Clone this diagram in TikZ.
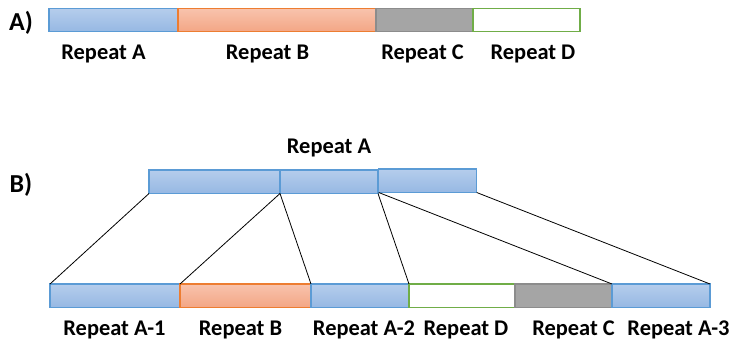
\documentclass[tikz,border=0pt]{standalone}
\usepackage{fontspec}
\setmainfont{Carlito}
\usepackage{xcolor}
\usepackage{tikz}
\usetikzlibrary{positioning}
\definecolor{blueline}{HTML}{5B9BD5}
\definecolor{bluetop}{HTML}{B5CDEC}
\definecolor{bluebot}{HTML}{96B8E3}
\definecolor{orangeline}{HTML}{ED7D31}
\definecolor{orangetop}{HTML}{F8C3AD}
\definecolor{orangebot}{HTML}{F3A685}
\definecolor{greyline}{HTML}{8C8C8C}
\definecolor{greyfill}{HTML}{A5A5A5}
\definecolor{greenline}{HTML}{70AD47}
\tikzset{
  segbox/.style={rectangle, line width=1.1bp, minimum height=23.5bp,
    anchor=north west, inner sep=0pt, outer sep=0pt},
  bluebox/.style={segbox, draw=blueline, top color=bluetop, bottom color=bluebot},
  orangebox/.style={segbox, draw=orangeline, top color=orangetop, bottom color=orangebot},
  greybox/.style={segbox, draw=greyline, fill=greyfill},
  whitebox/.style={segbox, draw=greenline, fill=white},
  seglabel/.style={anchor=base, inner sep=0pt,
    font=\fontsize{22.5}{27}\selectfont\bfseries},
  partlabel/.style={anchor=base, inner sep=0pt,
    font=\fontsize{26}{31}\selectfont\bfseries},
  link/.style={draw=black, line width=0.8bp},
}
\begin{document}
\begin{tikzpicture}[x=1bp, y=-1bp]
\useasboundingbox[fill=white] (0,0) rectangle (732,344);

% A) the original order of the repeats
\node[partlabel] (pa) at (21,30) {A)};
\node[bluebox, minimum width=129bp] (ta) at (49,8.3) {};
\node[orangebox, minimum width=198bp, right=0pt of ta] (tb) {};
\node[greybox, minimum width=97bp, right=0pt of tb] (tc) {};
\node[whitebox, minimum width=107bp, right=0pt of tc] (td) {};
\node[seglabel] (lta) at (103.5,59) {Repeat A};
\node[seglabel] (ltb) at (267.5,59) {Repeat B};
\node[seglabel] (ltc) at (422.5,59) {Repeat C};
\node[seglabel] (ltd) at (533,59) {Repeat D};

% B) repeat A split in three pieces
\node[partlabel] (pb) at (21,192) {B)};
\node[seglabel] (lma) at (329,153) {Repeat A};
\node[bluebox, minimum width=131bp] (m1) at (149,170) {};
\node[bluebox, minimum width=98bp, right=0pt of m1] (m2) {};
\node[bluebox, minimum width=98bp, right=0.7bp of m2, yshift=1bp] (m3) {};

\node[bluebox, minimum width=130bp] (b1) at (50,284) {};
\node[orangebox, minimum width=131bp, right=0pt of b1] (bb) {};
\node[bluebox, minimum width=98bp, right=0pt of bb] (b2) {};
\node[whitebox, minimum width=106bp, right=0pt of b2] (bd) {};
\node[greybox, minimum width=97bp, right=0pt of bd] (bc) {};
\node[bluebox, minimum width=98bp, right=0pt of bc] (b3) {};
\node[seglabel] (lb1) at (114.5,335) {Repeat A-1};
\node[seglabel] (lbb) at (240.5,335) {Repeat B};
\node[seglabel] (lb2) at (364,335) {Repeat A-2};
\node[seglabel] (lbd) at (466,335) {Repeat D};
\node[seglabel] (lbc) at (573.5,335) {Repeat C};
\node[seglabel] (lb3) at (678.5,335) {Repeat A-3};

% where each piece ends up
\draw[link] (m1.south west) -- (b1.north west);
\draw[link] (m1.south east) -- (b1.north east);
\draw[link] (m2.south west) -- (b2.north west);
\draw[link] (m2.south east) -- (b2.north east);
\draw[link] (m3.south west) -- (b3.north west);
\draw[link] (m3.south east) -- (b3.north east);
\end{tikzpicture}
\end{document}
